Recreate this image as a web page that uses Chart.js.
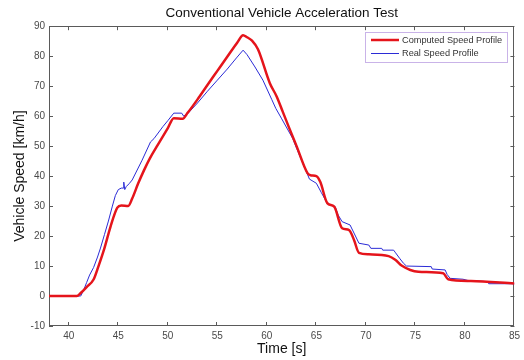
<!DOCTYPE html>
<html>
<head>
<meta charset="utf-8">
<title>Conventional Vehicle Acceleration Test</title>
<script src="https://cdn.jsdelivr.net/npm/chart.js@4.4.0/dist/chart.umd.min.js"></script>
<style>
  html, body { margin: 0; padding: 0; background: #fff; }
  canvas { display: block; }
</style>
</head>
<body>
<canvas id="graphCanvas" width="524" height="360"></canvas>
<script>
// values (time in s, speed in km/h)
const computedTime = [38, 40.8, 41.2, 41.8, 42.5, 43.0, 43.6, 44.2, 44.9, 45.3,
  46.0, 46.4, 47.0, 47.6, 48.2, 49.0, 50.0, 50.6, 51.5, 52.0,
  53.0, 54.0, 55.0, 56.0, 57.0, 57.6, 58.0, 58.5, 59.1, 60.3,
  61.0, 61.6, 62.2, 63.0, 64.1, 64.4, 65.0, 65.4, 66.1, 66.8,
  67.6, 68.3, 68.8, 69.3, 70.3, 72.3, 73.0, 73.6, 75.3, 77.8,
  78.3, 80.6, 85];
const computedSpeed = [0, 0, 1, 3, 5.5, 10, 16, 23, 29.5, 30.2,
  30, 32.5, 37.5, 42, 46, 50.5, 56, 59.3, 59.1, 61.1,
  65.6, 70.4, 75.1, 79.8, 84.5, 87, 86.3, 85.2, 82.3, 71,
  66.5, 61.5, 56.5, 50, 41, 40.3, 40, 38, 31, 29.8,
  22.6, 22, 18.7, 14.4, 13.9, 13.3, 12, 10.2, 8.1, 7.6,
  5.6, 5, 4.2];

const realTime = [38, 41.2, 41.5, 41.8, 42.1, 42.5, 42.9, 43.2, 43.6, 44.0,
  44.4, 44.7, 45.0, 45.3, 45.5, 45.55, 45.65, 45.8, 46.1, 46.4,
  47.4, 48.25, 48.6, 49.5, 50.0, 50.6, 51.4, 51.6, 52.0, 53.0,
  54.0, 55.0, 56.0, 57.0, 57.6, 58.0, 58.8, 59.6, 60.5, 60.9,
  61.5, 62.6, 63.0, 63.5, 64.0, 64.3, 65.0, 65.5, 66.1, 66.9,
  67.2, 67.6, 68.4, 68.8, 69.3, 70.3, 70.5, 71.6, 71.7, 72.8,
  73.0, 73.4, 73.8, 74.1, 76.6, 76.7, 78.0, 78.2, 78.5, 79.8,
  80.3, 82.3, 82.4, 85];
const realSpeed = [0, 0, 2, 4.5, 7, 9.5, 13, 16, 20.5, 25,
  30, 33.5, 35.5, 36, 36, 38, 35.5, 36.5, 37.5, 38.7,
  45.3, 51.4, 52.5, 56.5, 58.5, 61, 61, 60, 60.8, 64.4,
  68.3, 72, 75.7, 79.7, 82, 80.5, 76.4, 72, 65.5, 62.6,
  59.1, 52.6, 49.3, 45.3, 41.4, 39, 37.6, 34.5, 30.9, 29.8,
  27, 24.8, 23.7, 21, 17.6, 17, 15.9, 15.9, 15.3, 15.3,
  14.4, 12.6, 10.9, 10, 9.8, 9.0, 8.7, 7.2, 5.9, 5.6,
  5.2, 4.8, 4.1, 4.1];

const xTicks = [40, 45, 50, 55, 60, 65, 70, 75, 80, 85];
const yTicks = [-10, 0, 10, 20, 30, 40, 50, 60, 70, 80, 90];

const toPoints = (xs, ys) => xs.map((x, i) => ({ x: x, y: ys[i] }));

Chart.defaults.font.family = 'Arial, "Liberation Sans", sans-serif';
Chart.defaults.color = '#333';

// matlab style box with inward ticks on all four sides
const axisBox = {
  id: 'axisBox',
  beforeDatasetsDraw(chart) {
    const { ctx, chartArea: a, scales } = chart;
    const len = 4;
    ctx.save();
    ctx.strokeStyle = '#5a5a5a';
    ctx.lineWidth = 1;
    ctx.strokeRect(Math.round(a.left) + 0.5, Math.round(a.top) + 0.5,
      Math.round(a.right - a.left) - 1, Math.round(a.bottom - a.top) - 1);
    ctx.beginPath();
    scales.x.ticks.forEach(t => {
      const px = Math.round(scales.x.getPixelForValue(t.value)) - 0.5;
      ctx.moveTo(px, a.bottom); ctx.lineTo(px, a.bottom - len);
      ctx.moveTo(px, a.top); ctx.lineTo(px, a.top + len);
    });
    scales.y.ticks.forEach(t => {
      const py = Math.round(scales.y.getPixelForValue(t.value)) + 0.5;
      ctx.moveTo(a.left, py); ctx.lineTo(a.left + len, py);
      ctx.moveTo(a.right, py); ctx.lineTo(a.right - len, py);
    });
    ctx.stroke();
    ctx.restore();
  }
};

// legend box inside the plot, top right
const boxLegend = {
  id: 'boxLegend',
  afterDraw(chart) {
    const { ctx } = chart;
    const x0 = 365, y0 = 32, w = 142, h = 30;
    ctx.save();
    ctx.fillStyle = '#fff';
    ctx.fillRect(x0, y0, w, h);
    ctx.strokeStyle = '#c9b3e8';
    ctx.lineWidth = 1;
    ctx.strokeRect(x0 + 0.5, y0 + 0.5, w, h);
    ctx.font = '9.2px Arial, "Liberation Sans", sans-serif';
    ctx.textBaseline = 'middle';
    chart.data.datasets.forEach((ds, i) => {
      const yy = y0 + 8 + i * 13.5;
      ctx.strokeStyle = ds.borderColor;
      ctx.lineWidth = ds.borderWidth;
      ctx.beginPath();
      ctx.moveTo(x0 + 6, yy);
      ctx.lineTo(x0 + 34, yy);
      ctx.stroke();
      ctx.fillStyle = '#333';
      ctx.fillText(ds.label, x0 + 37, yy);
    });
    ctx.restore();
  }
};

const ctx = document.getElementById('graphCanvas');

new Chart(ctx, {
  type: 'line',
  data: {
    datasets: [{
      label: 'Computed Speed Profile',
      data: toPoints(computedTime, computedSpeed),
      borderColor: '#e5141b',
      borderWidth: 2.5,
      pointRadius: 0,
      cubicInterpolationMode: 'monotone'
    }, {
      label: 'Real Speed Profile',
      data: toPoints(realTime, realSpeed),
      borderColor: '#2b2bd6',
      borderWidth: 1,
      pointRadius: 0,
      tension: 0
    }]
  },
  options: {
    responsive: false,
    animation: false,
    layout: { padding: { left: 0, right: 7, top: 0, bottom: 0 } },
    plugins: {
      legend: { display: false },
      tooltip: { enabled: false },
      title: {
        display: true,
        text: 'Conventional Vehicle Acceleration Test',
        fullSize: false,
        color: '#111',
        font: { size: 13.5, weight: 'normal' },
        padding: { top: 5, bottom: 5 }
      }
    },
    scales: {
      x: {
        type: 'linear',
        min: 38,
        max: 85,
        afterBuildTicks: s => { s.ticks = xTicks.map(v => ({ value: v })); },
        afterFit: s => { s.height = 34; },
        grid: { display: false, drawTicks: false },
        border: { display: false },
        ticks: { font: { size: 10 }, color: '#4a4a4a', padding: 4, maxRotation: 0 },
        title: {
          display: true,
          text: 'Time [s]',
          color: '#111',
          font: { size: 14 },
          padding: { top: 0, bottom: 2 }
        }
      },
      y: {
        type: 'linear',
        min: -10,
        max: 90,
        afterBuildTicks: s => { s.ticks = yTicks.map(v => ({ value: v })); },
        afterFit: s => { s.width = 49; },
        grid: { display: false, drawTicks: false },
        border: { display: false },
        ticks: { font: { size: 10 }, color: '#4a4a4a', padding: 4 },
        title: {
          display: true,
          text: 'Vehicle Speed [km/h]',
          color: '#111',
          font: { size: 14 },
          padding: { top: 12, bottom: 0 }
        }
      }
    }
  },
  plugins: [axisBox, boxLegend]
});
</script>
</body>
</html>
